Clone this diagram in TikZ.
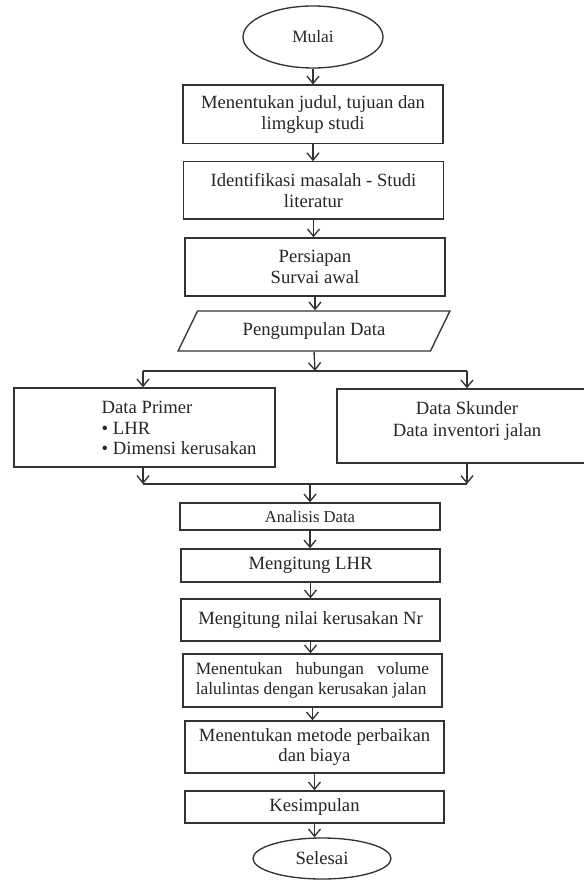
\documentclass[tikz,border=0pt]{standalone}
\usepackage{fontspec}
\setmainfont{Liberation Serif}
\usetikzlibrary{arrows.meta,shapes.geometric}

\begin{document}
\begin{tikzpicture}[
  x=0.75pt,y=-0.75pt,
  line/.style={draw=black!80,line width=1pt},
  flow/.style={line,-{Straight Barb[length=5.5pt,width=9pt]}},
  box/.style={line,rectangle,inner sep=0pt,align=center,text=black!85,font=\fontsize{14}{16.3}\selectfont},
  small/.style={font=\fontsize{12.5}{15}\selectfont},
  term/.style={line,ellipse,inner sep=0pt,text=black!85},
  data/.style={line,trapezium,trapezium left angle=55,trapezium right angle=125,
    trapezium stretches=true,inner sep=0pt,text=black!85,font=\fontsize{14}{16.3}\selectfont},
  label/.style={align=left,text=black!85,font=\fontsize{14}{15.5}\selectfont},
]
\useasboundingbox (0,0) rectangle (584,880);

% Mulai sampai pengumpulan data
\node[term,minimum width=105pt,minimum height=46.5pt,font=\fontsize{13}{15}\selectfont] (mulai) at (313,37) {Mulai};
\node[box,minimum width=195pt,minimum height=44pt] (judul) at (313,114.5)
  {Menentukan judul, tujuan dan\\limgkup studi};
\node[box,minimum width=195pt,minimum height=43pt] (identifikasi) at (313.5,190.5)
  {Identifikasi masalah - Studi\\literatur};
\node[box,minimum width=195pt,minimum height=43.5pt] (persiapan) at (315,267)
  {Persiapan\\Survai awal};
\node[data,minimum width=204pt,minimum height=30pt] (kumpul) at (314,331) {Pengumpulan Data};

\draw[flow] (mulai.south) -- (mulai.south |- judul.north);
\draw[flow] (judul.south) -- (judul.south |- identifikasi.north);
\draw[flow] (identifikasi.south) -- (identifikasi.south |- persiapan.north);
\draw[flow] (persiapan.south) -- (persiapan.south |- kumpul.north);

% Data primer dan sekunder
\node[box,minimum width=195.75pt,minimum height=59.25pt] (primer) at (144.5,427.5) {};
\node[label,anchor=west] (primertxt) at (97,428)
  {Data Primer\\\textbullet\ LHR\\\textbullet\ Dimensi kerusakan};
\node[box,minimum width=190.5pt,minimum height=55.5pt] (skunder) at (464,426) {};
\node[label,align=center,font=\fontsize{14}{16.5}\selectfont] (skundertxt) at (467,421)
  {Data Skunder\\Data inventori jalan};

\coordinate (pecah) at (315,371);
\coordinate (pkiri) at (143,371);
\coordinate (pkanan) at (467,371);
\draw[flow] (kumpul.south) -- (pecah);
\draw[line] (pkiri) -- (pkanan);
\draw[flow] (pkiri) -- (pkiri |- primer.north);
\draw[flow] (pkanan) -- (pkanan |- skunder.north);

\coordinate (gkiri) at (143,484);
\coordinate (gkanan) at (467,484);
\coordinate (gabung) at (310,484);
\draw[flow] (gkiri |- primer.south) -- (gkiri);
\draw[flow] (gkanan |- skunder.south) -- (gkanan);
\draw[line] (gkiri) -- (gkanan);

% Analisis sampai selesai
\node[box,small,minimum width=195pt,minimum height=20.25pt] (analisis) at (310,516.5) {Analisis Data};
\node[box,minimum width=194.25pt,minimum height=24.75pt] (lhr) at (310.5,565.5) {Mengitung LHR};
\node[box,minimum width=194.25pt,minimum height=31.5pt] (nilai) at (310.5,620) {Mengitung nilai kerusakan Nr};
\node[box,align=left,minimum width=194.25pt,minimum height=39.75pt,font=\fontsize{13}{15}\selectfont] (hubungan) at (312.5,680.5)
  {\makebox[175pt][s]{Menentukan hubungan volume}\\lalulintas dengan kerusakan jalan};
\node[box,minimum width=194.25pt,minimum height=39pt,font=\fontsize{14}{15}\selectfont] (metode) at (314.5,747)
  {Menentukan metode perbaikan\\dan biaya};
\node[box,minimum width=194.25pt,minimum height=24pt] (kesimpulan) at (314.5,807) {Kesimpulan};
\node[term,minimum width=103.5pt,minimum height=30.75pt,font=\fontsize{14}{16}\selectfont] (selesai) at (322,858.5) {Selesai};

\draw[flow] (gabung) -- (gabung |- analisis.north);
\draw[flow] (analisis.south) -- (analisis.south |- lhr.north);
\draw[flow] (lhr.south) -- (lhr.south |- nilai.north);
\draw[flow] (nilai.south) -- (nilai.south |- hubungan.north);
\draw[flow] (hubungan.south) -- (hubungan.south |- metode.north);
\draw[flow] (metode.south) -- (metode.south |- kesimpulan.north);
\draw[flow] (kesimpulan.south) -- (kesimpulan.south |- selesai.north);

\end{tikzpicture}
\end{document}
